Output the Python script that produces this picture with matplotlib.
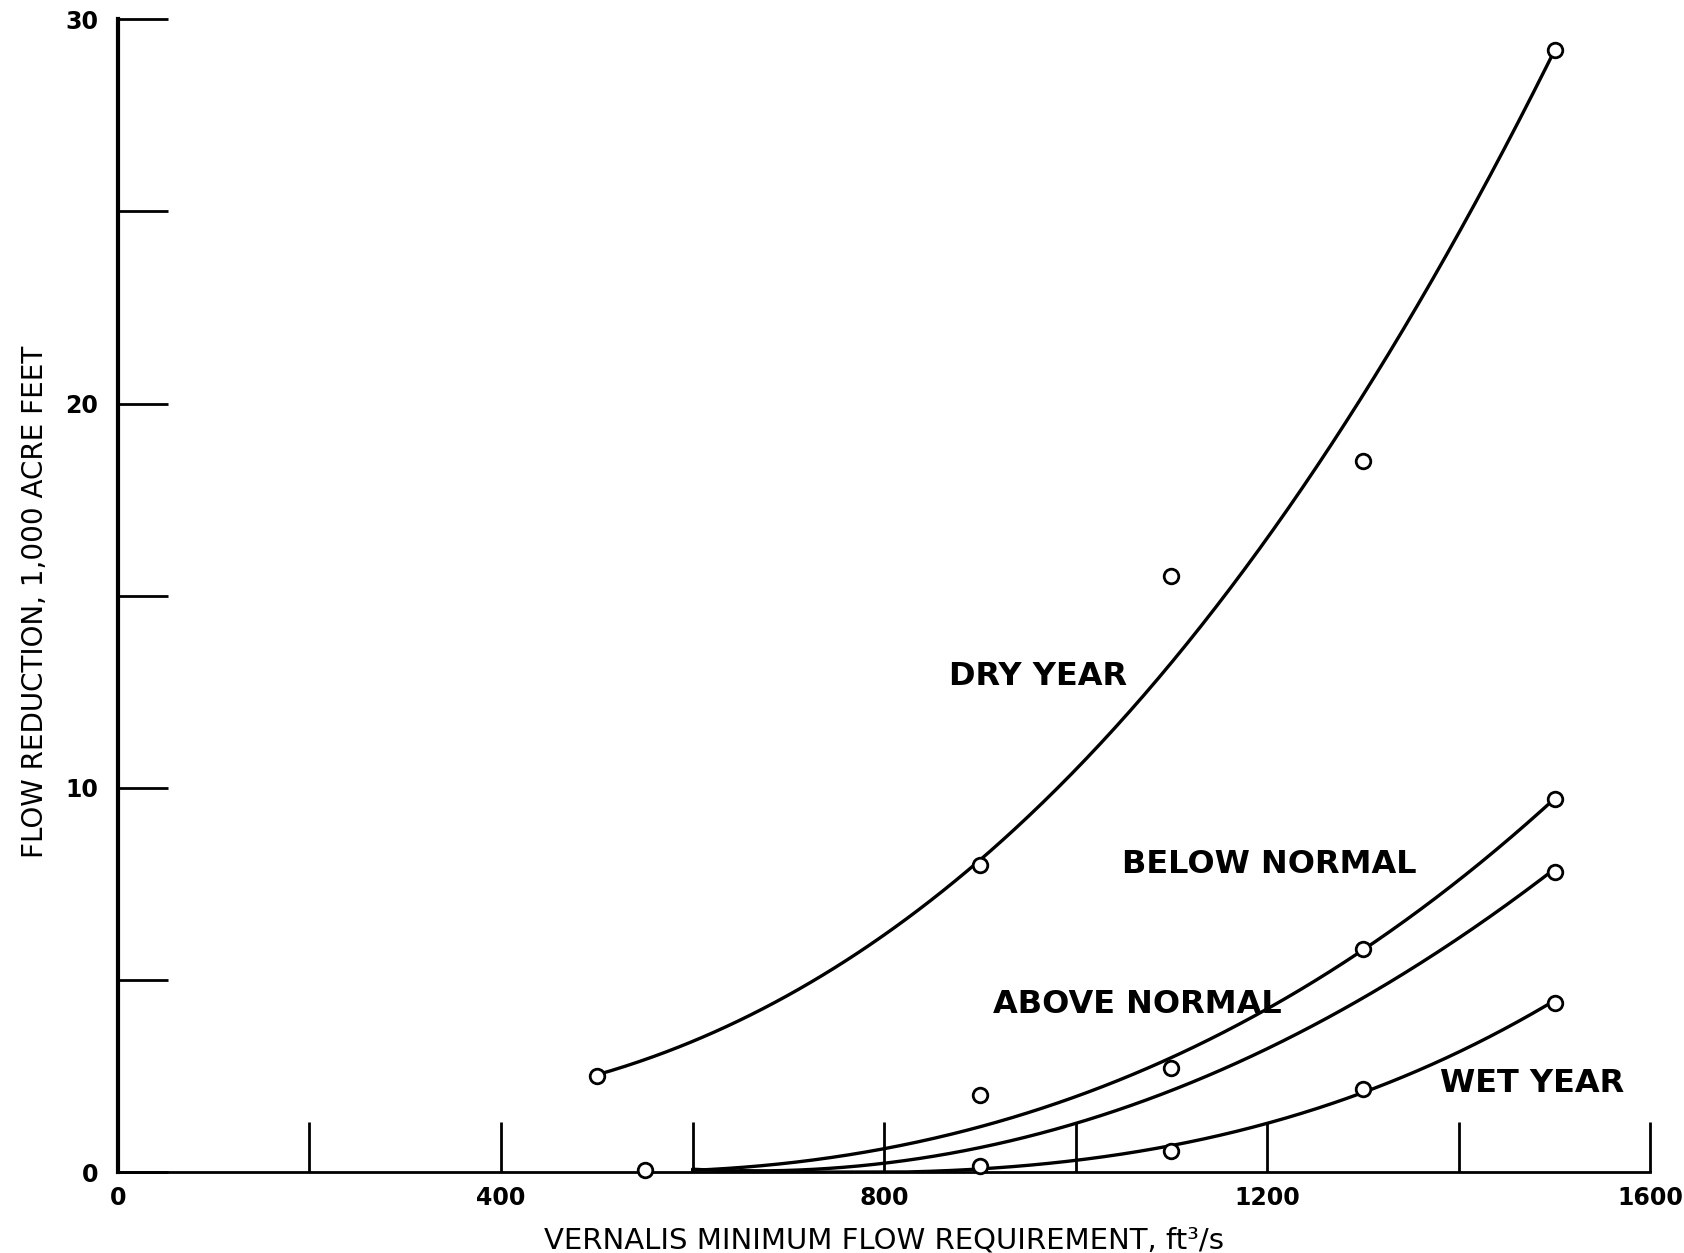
import numpy as np
import matplotlib
matplotlib.use("Agg")
import matplotlib.pyplot as plt

# ---------------- data ----------------
# observed points (open circles)
dry_x = [500, 900, 1100, 1300, 1500]
dry_y = [2.5, 8.0, 15.5, 18.5, 29.2]
below_x = [900, 1100, 1300, 1500]
below_y = [2.0, 2.7, 5.8, 9.7]
above_x = [550, 1500]
above_y = [0.05, 7.8]
wet_x = [900, 1100, 1300, 1500]
wet_y = [0.15, 0.55, 2.15, 4.4]

# hand-drawn fitted curves
dry_cx = [500, 600, 700, 800, 900, 1000, 1100, 1200, 1300, 1400, 1500]
dry_cy = [2.5, 3.4, 4.7, 6.2, 8.0, 10.4, 13.3, 16.6, 20.2, 24.4, 29.2]
below_cx = [600, 700, 800, 900, 1000, 1100, 1200, 1300, 1400, 1500]
below_cy = [0.0, 0.3, 0.65, 1.15, 1.9, 2.95, 4.3, 5.8, 7.6, 9.7]
above_cx = [600, 700, 800, 900, 1000, 1100, 1200, 1300, 1400, 1500]
above_cy = [0.0, 0.12, 0.32, 0.65, 1.15, 2.05, 3.2, 4.6, 6.2, 7.8]
wet_cx = [650, 800, 900, 1000, 1100, 1200, 1300, 1400, 1500]
wet_cy = [0.0, 0.05, 0.15, 0.28, 0.55, 1.25, 2.15, 3.2, 4.4]

labels = ["DRY YEAR", "BELOW NORMAL", "ABOVE NORMAL", "WET YEAR"]
label_x = [961, 1202, 1064, 1477]
label_y = [12.9, 8.0, 4.35, 2.3]

x_major = [0, 400, 800, 1200, 1600]
y_major = [0, 10, 20, 30]


def smooth(cx, cy, deg):
    xs = np.linspace(cx[0], cx[-1], 400)
    c = np.polyfit(np.asarray(cx, float) / 1000.0, cy, deg)
    ys = np.polyval(c, xs / 1000.0)
    return xs, np.clip(ys, 0, None)


fig = plt.figure(figsize=(16.84, 12.53), dpi=100)
ax = fig.add_axes([0.070, 0.0646, 0.910, 0.920])

lw = 2.4
for cx, cy, deg in [(dry_cx, dry_cy, 3), (below_cx, below_cy, 3),
                    (above_cx, above_cy, 3), (wet_cx, wet_cy, 3)]:
    xs, ys = smooth(cx, cy, deg)
    ax.plot(xs, ys, color="black", lw=lw, zorder=2, solid_capstyle="round")

for px, py in [(dry_x, dry_y), (below_x, below_y), (above_x, above_y), (wet_x, wet_y)]:
    ax.plot(px, py, linestyle="none", marker="o", markersize=10.5, markerfacecolor="white",
            markeredgecolor="black", markeredgewidth=2.0, zorder=3, clip_on=False)

for t, lx, ly in zip(labels, label_x, label_y):
    ax.text(lx, ly, t, ha="center", va="center", fontsize=23, fontweight="bold",
            family="DejaVu Sans", color="black")

ax.set_xlim(0, 1600)
ax.set_ylim(0, 30)
for s in ["top", "right"]:
    ax.spines[s].set_visible(False)
ax.spines["left"].set_linewidth(3)
ax.spines["bottom"].set_linewidth(2)

ax.set_xticks(x_major)
ax.set_xticks(np.arange(0, 1601, 200), minor=True)
ax.set_yticks(y_major)
ax.set_yticks(np.arange(0, 31, 5), minor=True)
ax.tick_params(axis="x", which="both", direction="in", length=36, width=2, pad=10,
               labelsize=17)
ax.tick_params(axis="y", which="both", direction="in", length=36, width=2, pad=14,
               labelsize=17)
for lab in ax.get_xticklabels() + ax.get_yticklabels():
    lab.set_fontweight("bold")

ax.set_xlabel("VERNALIS MINIMUM FLOW REQUIREMENT, ft³/s", fontsize=21, labelpad=12)
ax.set_ylabel("FLOW REDUCTION, 1,000 ACRE FEET", fontsize=20, labelpad=22)
ax.yaxis.set_label_coords(-0.045, 0.495)

fig.savefig("out.png", dpi=100, facecolor="white")
